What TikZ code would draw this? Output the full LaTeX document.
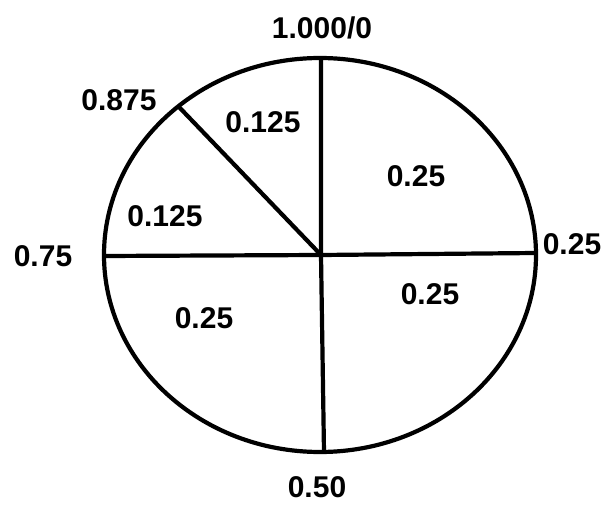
\documentclass[tikz,border=0pt]{standalone}
\usepackage{fontspec}
\setmainfont{Liberation Sans}
\begin{document}
\begin{tikzpicture}[x=1pt,y=-1pt,line width=4.2pt,
  font=\fontsize{30}{32}\selectfont\bfseries]
  \useasboundingbox (0,0) rectangle (606,505);

  \coordinate (O) at (321,255);
  \coordinate (N) at (321,58);
  \coordinate (S) at (324,452);
  \coordinate (W) at (104,256);
  \coordinate (E) at (536,253);
  \coordinate (K) at (179,107);

  % 圆周
  \draw (320,255) ellipse [x radius=216,y radius=197];

  % 分割线
  \draw (N) -- (O) -- (S);
  \draw (W) -- (O) -- (E);
  \draw (O) -- (K);

  % 刻度标注
  \node (lN) at (322,28) {1.000/0};
  \node (lK) at (119,100) {0.875};
  \node (lW) at (43,256) {0.75};
  \node (lE) at (572,244) {0.25};
  \node[inner sep=0pt] (lS) at (317,487) {0.50};

  % 扇区标注
  \node (a1) at (263,122) {0.125};
  \node (a2) at (165,216) {0.125};
  \node (a3) at (416,176) {0.25};
  \node (a4) at (430,294) {0.25};
  \node (a5) at (204,318) {0.25};
\end{tikzpicture}
\end{document}
